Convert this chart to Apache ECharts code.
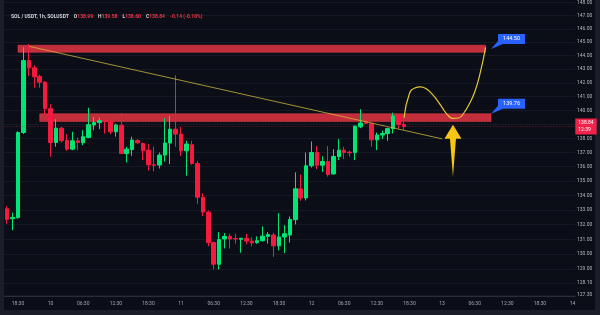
<!DOCTYPE html>
<html><head><meta charset="utf-8">
<script src="https://cdn.jsdelivr.net/npm/echarts@6/dist/echarts.min.js"></script>
<style>html,body{margin:0;padding:0;background:#0b0e17}#c{width:600px;height:315px}</style>
</head><body><div id="c"></div>
<script>
// ---- data ----
const startDay = 9, startHour = 16;      // first candle: 9th 16:30
const slotCount = 105;                   // hourly slots on the time axis (incl. future space)
const opens  = [133.08,132.40,132.47,138.41,143.64,143.10,142.47,142.05,140.12,137.70,138.72,137.84,137.23,137.82,137.68,138.06,138.95,139.12,139.29,139.19,138.46,138.93,136.92,137.20,137.84,137.63,137.16,136.13,136.11,136.81,137.66,138.65,138.30,137.11,137.54,136.22,133.87,132.85,130.78,129.33,131.02,131.20,131.05,131.00,131.07,130.88,130.78,130.91,131.20,131.29,130.56,131.16,131.29,132.33,134.45,133.82,136.06,136.99,136.10,136.36,135.49,136.71,137.16,137.02,136.99,138.81,139.19,139.04,137.89,138.23,138.34,138.69,139.59,138.99];
const highs  = [133.25,132.82,138.50,144.62,144.87,143.29,142.60,142.12,140.44,139.36,138.81,138.30,138.46,138.06,138.58,140.19,139.52,139.47,139.35,139.29,139.04,139.81,137.40,138.11,137.94,137.70,137.59,137.40,136.99,139.43,139.59,142.56,138.81,137.82,137.82,136.41,134.14,132.96,130.85,131.49,131.42,131.38,131.38,131.10,131.38,131.15,131.20,131.88,131.49,131.45,132.78,131.95,132.55,135.60,135.44,136.99,137.77,137.46,136.72,137.46,137.23,137.94,137.40,137.11,138.88,140.08,139.36,139.12,138.41,138.55,138.76,139.83,139.66,139.58];
const lows   = [132.06,131.61,132.40,138.30,142.51,141.64,141.64,139.72,136.69,137.40,137.70,137.11,137.16,137.16,137.51,138.01,138.58,138.65,138.34,138.30,138.11,136.88,136.29,136.76,137.59,136.46,135.72,135.67,135.87,136.36,136.18,137.40,136.76,135.37,136.13,133.42,132.59,130.53,128.98,128.98,130.38,130.38,130.71,130.10,130.67,130.53,130.70,130.85,130.71,129.82,130.26,130.08,130.78,132.01,133.62,133.65,135.93,135.83,135.63,135.30,135.44,136.46,136.53,136.69,136.46,138.72,139.00,137.40,137.16,137.94,137.82,138.34,138.69,138.60];
const closes = [132.35,132.49,138.41,143.64,143.10,142.44,142.05,140.12,137.70,138.72,137.82,137.23,137.82,137.70,138.11,138.97,139.12,139.26,139.19,138.46,138.95,136.92,137.23,137.87,137.68,137.11,136.13,136.09,136.81,137.66,138.65,138.30,137.11,137.59,136.22,133.87,132.85,130.78,129.33,130.98,131.20,131.02,131.02,131.07,130.88,130.76,130.91,131.22,131.33,130.56,131.16,131.38,132.35,134.45,133.82,136.06,136.99,136.10,136.36,135.44,136.71,137.16,136.99,136.97,138.88,139.09,139.07,137.89,138.23,138.34,138.69,139.59,138.98,138.84];

const priceTicks = [127.3,128.1,129,130,131,132,133,134,135,136,137,138,139,140,141,142,143,144,145,146,147,148];
const xTickTimes = ['00:30','06:30','12:30','18:30'];

// resistance / support zones [startSlot, endSlot, top, bottom]
const zoneStart  = [2, 6];
const zoneEnd    = [88, 89];
const zoneTop    = [144.78, 139.76];
const zoneBottom = [144.25, 139.19];
const calloutLabels = ['144.50', '139.76'];
const calloutPrices = [144.50, 139.76];
const calloutSlot = 89;

// descending trend line
const trendSlots  = [4, 80];
const trendPrices = [144.70, 137.96];

// projected path
const projStartSlot = 73;
const projPrices = [139.47,141.22,141.62,141.70,141.59,141.25,140.78,140.21,139.67,139.42,139.45,139.81,140.46,141.33,142.71,144.62];

// big yellow arrow
const arrowSlot = 82, arrowPrice = 137.11;

const countdown = '12:39';
const symbolName = 'SOL / USDT, 1h, SOLUSDT';

// ---- build ----
const pad = n => (n < 10 ? '0' : '') + n;
const categories = [];
for (let k = 0; k < slotCount; k++) {
  const t = startHour + k;
  categories.push((startDay + Math.floor(t / 24)) + ' ' + pad(t % 24) + ':30');
}
const candles = opens.map((o, i) => [o, closes[i], lows[i], highs[i]]);
const n = closes.length;
const last = closes[n - 1], prev = closes[n - 2];
const chg = (last - prev).toFixed(2);
const pct = ((last - prev) / prev * 100).toFixed(2);
const projData = projPrices.map((p, k) => {
  if (k === projPrices.length - 1) {
    return {value: [projStartSlot + k, p], symbol: 'path://M0,6L4,0L8,6', symbolSize: [5, 4], symbolRotate: -8,
      itemStyle: {color: 'rgba(0,0,0,0)', borderColor: '#e6c73a', borderWidth: 1}};
  }
  return [projStartSlot + k, p];
});

const chart = echarts.init(document.getElementById('c'), null, {renderer: 'canvas'});
const GREEN = '#00e676', RED = '#f7193f';
chart.setOption({
  animation: false,
  backgroundColor: '#0b0e17',
  title: {
    left: 6, top: 3,
    text: `{w|${symbolName}} {w|O}{r|${opens[n-1].toFixed(2)}} {w|H}{r|${highs[n-1].toFixed(2)}} {w|L}{r|${lows[n-1].toFixed(2)}} {w|C}{r|${last.toFixed(2)}} {r|${chg} (${pct}%)}`,
    textStyle: {rich: {
      w: {color: '#d1d4dc', fontSize: 5, fontFamily: 'Roboto'},
      r: {color: '#f23645', fontSize: 5, fontFamily: 'Roboto'}
    }}
  },
  graphic: [
    {type: 'rect', left: 0, top: 0, shape: {width: 4, height: 315}, style: {fill: '#1b1e28'}, silent: true},
    {type: 'rect', right: 0, top: 0, shape: {width: 5, height: 315}, style: {fill: '#1b1e28'}, silent: true},
    {type: 'rect', left: 0, bottom: 0, shape: {width: 600, height: 5}, style: {fill: '#1b1e28'}, silent: true}
  ],
  grid: {left: 4.4, width: 570.9, top: 0, height: 296},
  xAxis: {
    type: 'category', data: categories, boundaryGap: true,
    axisLine: {show: true, lineStyle: {color: '#2a2e39'}},
    axisTick: {show: false},
    splitLine: {show: false},
    axisLabel: {
      interval: (idx, val) => xTickTimes.includes(val.split(' ')[1]),
      formatter: val => { const p = val.split(' '); return p[1] === '00:30' ? p[0] : p[1]; },
      color: '#a3a6af', fontSize: 5, fontFamily: 'Roboto', margin: 5
    }
  },
  yAxis: {
    type: 'log', logBase: 10, position: 'right', min: 127.23, max: 148.08,
    axisLine: {show: false},
    axisTick: {show: false, customValues: priceTicks},
    splitLine: {show: true, lineStyle: {color: '#161a25', width: 1}},
    axisLabel: {customValues: priceTicks, formatter: v => Number(v).toFixed(2), align: 'right', margin: 17,
      color: '#b2b5be', fontSize: 5, fontFamily: 'Roboto'}
  },
  series: [
    {
      type: 'candlestick', name: 'SOLUSDT', data: candles, barWidth: 4,
      itemStyle: {color: GREEN, color0: RED, borderColor: GREEN, borderColor0: RED, borderWidth: 1},
      markArea: {
        silent: true,
        itemStyle: {color: 'rgba(242,54,69,0.8)', borderColor: 'rgba(250,70,85,0.9)', borderWidth: 0.5},
        data: zoneStart.map((s, k) => [{coord: [s, zoneTop[k]]}, {coord: [zoneEnd[k], zoneBottom[k]]}])
      },
      markLine: {
        silent: true, symbol: ['none', 'none'], animation: false,
        data: [
          [{coord: [trendSlots[0], trendPrices[0]], lineStyle: {color: 'rgba(214,190,60,0.75)', width: 1, type: 'solid'}, label: {show: false}},
           {coord: [trendSlots[1], trendPrices[1]]}],
          {yAxis: last, lineStyle: {color: 'rgba(200,40,60,0.55)', width: 1, type: [1, 2]},
           label: {show: true, position: 'end', distance: 0, formatter: last.toFixed(2) + '\n' + countdown,
             backgroundColor: '#f0234a', color: '#ffffff', fontSize: 5, lineHeight: 7, padding: [1, 3], fontFamily: 'Roboto'}}
        ]
      },
      markPoint: {
        silent: true, animation: false,
        data: [
          ...calloutPrices.map((p, k) => ({
            coord: [calloutSlot, p], symbol: 'path://M7,0L34,0L34,10L12,10L0,15L7,7Z', symbolSize: [34, 15],
            symbolKeepAspect: false, symbolOffset: [17, -7.5],
            itemStyle: {color: '#2962ff'},
            label: {show: true, formatter: calloutLabels[k], color: '#ffffff', fontSize: 5.5, fontFamily: 'Roboto', offset: [3.5, -2.5]}
          })),
          {coord: [arrowSlot, arrowPrice], symbol: 'path://M8.5,0L17,14L11.5,14L8.5,52L5.5,14L0,14Z', symbolSize: [17, 52],
           symbolKeepAspect: false, itemStyle: {color: '#f7c514'}, label: {show: false}}
        ]
      }
    },
    {
      type: 'line', name: 'projection', data: projData, smooth: 0.5,
      showSymbol: true, symbol: 'none',
      lineStyle: {color: '#e6c73a', width: 1.2}, itemStyle: {color: '#e6c73a'}, z: 5
    }
  ]
});
</script></body></html>
